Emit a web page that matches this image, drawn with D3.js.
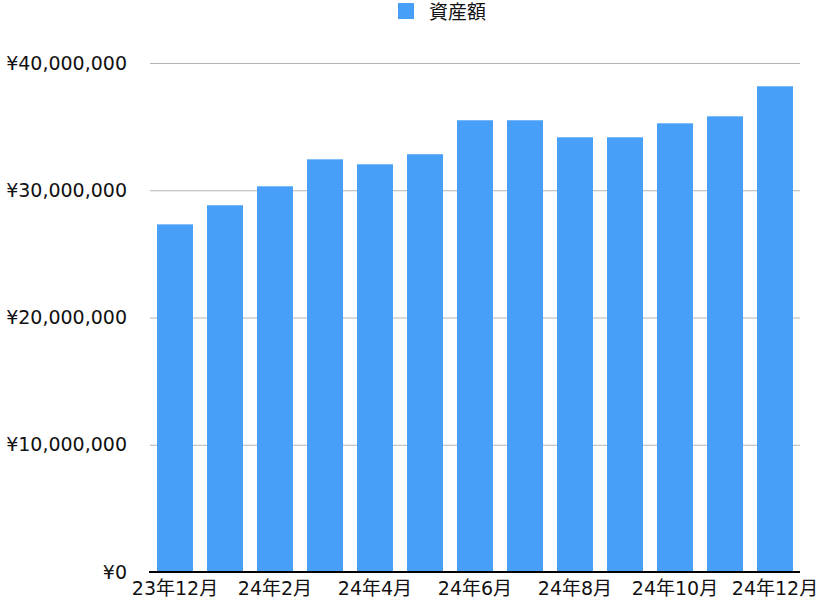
<!DOCTYPE html>
<html><head><meta charset="utf-8">
<script src="https://cdn.jsdelivr.net/npm/d3@7"></script>
<style>
html,body{margin:0;padding:0;background:#fff;}
text{font-family:"DejaVu Sans","Noto Sans CJK JP",sans-serif;fill:#111;}
</style></head>
<body>
<svg id="chart" width="822" height="600"></svg>
<script>
const categories = ["23年12月","24年1月","24年2月","24年3月","24年4月","24年5月","24年6月","24年7月","24年8月","24年9月","24年10月","24年11月","24年12月"];
const values = [27320000, 28820000, 30310000, 32430000, 32040000, 32830000, 35500000, 35500000, 34160000, 34160000, 35260000, 35810000, 38170000];
const yTicks = [0, 10000000, 20000000, 30000000, 40000000];
const xTickLabels = ["23年12月","24年2月","24年4月","24年6月","24年8月","24年10月","24年12月"];
const seriesName = "資産額";
const barColor = "#479ff8";

const svg = d3.select("#chart");
const plotLeft = 150, plotRight = 800, plotTop = 63, plotBottom = 572;

const x = d3.scaleBand().domain(categories).range([plotLeft, plotRight]).paddingInner(0.28).paddingOuter(0.14);
const y = d3.scaleLinear().domain([0, 40000000]).range([plotBottom, plotTop]);

// gridlines
svg.append("g").selectAll("line").data(yTicks.filter(d => d > 0)).join("line")
  .attr("x1", plotLeft).attr("x2", plotRight)
  .attr("y1", d => y(d) + 0.5).attr("y2", d => y(d) + 0.5)
  .attr("stroke", "#b5b5b5").attr("stroke-width", 1);

// bars
svg.append("g").selectAll("rect").data(values).join("rect")
  .attr("x", (d, i) => x(categories[i]))
  .attr("width", x.bandwidth())
  .attr("y", d => y(d))
  .attr("height", d => plotBottom - y(d))
  .attr("fill", barColor);

// baseline
svg.append("line").attr("x1", plotLeft - 1).attr("x2", plotRight)
  .attr("y1", plotBottom).attr("y2", plotBottom)
  .attr("stroke", "#000").attr("stroke-width", 2);

// y labels
const fmt = d => "¥" + d3.format(",")(d);
svg.append("g").selectAll("text").data(yTicks).join("text")
  .attr("x", 127).attr("y", d => y(d))
  .attr("dy", "0.35em")
  .attr("text-anchor", "end")
  .attr("font-size", 19)
  .text(fmt);

// x labels
svg.append("g").selectAll("text").data(xTickLabels).join("text")
  .attr("x", d => x(d) + x.bandwidth() / 2)
  .attr("y", 588)
  .attr("dy", "0.35em")
  .attr("text-anchor", "middle")
  .attr("font-size", 19)
  .text(d => d);

// legend
const lg = svg.append("g");
lg.append("rect").attr("x", 398).attr("y", 3).attr("width", 16).attr("height", 16).attr("fill", barColor);
lg.append("text").attr("x", 429).attr("y", 12).attr("dy", "0.35em").attr("font-size", 19).text(seriesName);
</script>
</body></html>
